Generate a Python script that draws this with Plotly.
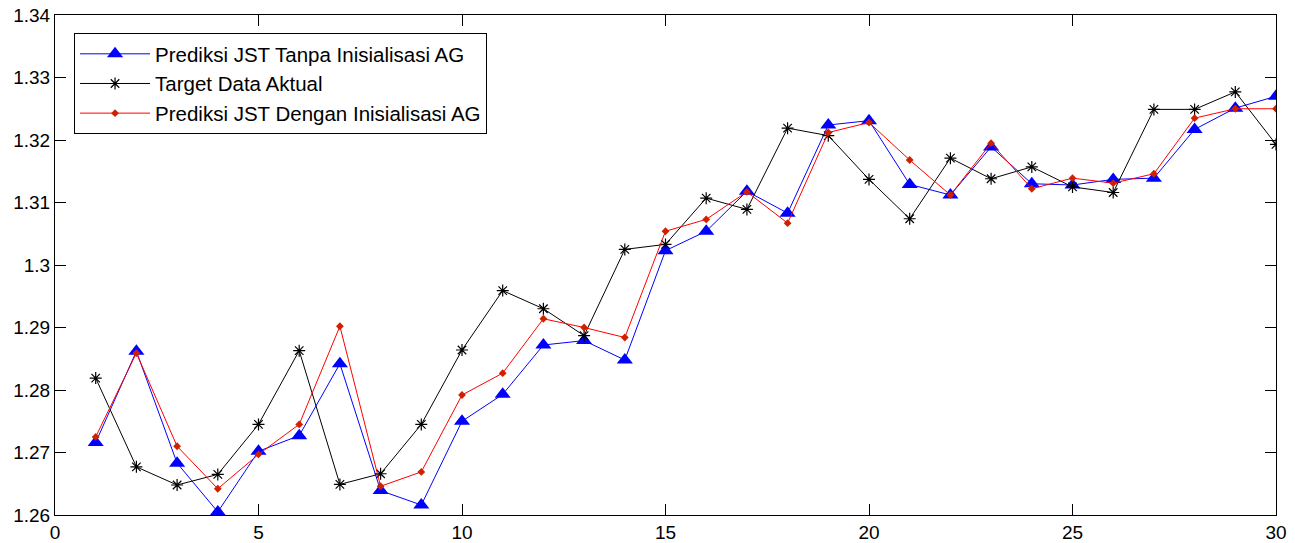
import plotly.graph_objects as go

x_index = list(range(1, 31))

tanpa_ag = [1.2716, 1.2862, 1.2683, 1.2605, 1.2702, 1.2727, 1.2842, 1.2639, 1.2616, 1.2750,
            1.2793, 1.2872, 1.2879, 1.2848, 1.3023, 1.3054, 1.3118, 1.3083, 1.3224, 1.3231,
            1.3129, 1.3112, 1.3189, 1.3130, 1.3128, 1.3137, 1.3139, 1.3217, 1.3251, 1.3270]

target_aktual = [1.2819, 1.2677, 1.2648, 1.2665, 1.2745, 1.2863, 1.2649, 1.2666, 1.2745, 1.2864,
                 1.2959, 1.2930, 1.2887, 1.3025, 1.3033, 1.3107, 1.3089, 1.3219, 1.3207, 1.3137,
                 1.3074, 1.3171, 1.3138, 1.3157, 1.3125, 1.3116, 1.3249, 1.3249, 1.3277, 1.3193]

dengan_ag = [1.2725, 1.2859, 1.2710, 1.2642, 1.2697, 1.2745, 1.2902, 1.2646, 1.2669, 1.2792,
             1.2827, 1.2914, 1.2900, 1.2884, 1.3054, 1.3073, 1.3117, 1.3067, 1.3212, 1.3228,
             1.3168, 1.3112, 1.3195, 1.3122, 1.3139, 1.3131, 1.3146, 1.3235, 1.3250, 1.3250]

names = ["Prediksi JST Tanpa Inisialisasi AG", "Target Data Aktual",
         "Prediksi JST Dengan Inisialisasi AG"]

FONT = "Liberation Sans, Arial, sans-serif"

fig = go.Figure()
fig.add_trace(go.Scatter(
    x=x_index, y=tanpa_ag, name=names[0], mode="lines+markers",
    line=dict(color="#0000ff", width=1),
    marker=dict(symbol="triangle-up", size=14, color="#0000ff"),
))
fig.add_trace(go.Scatter(
    x=x_index, y=target_aktual, name=names[1], mode="lines+markers",
    line=dict(color="#000000", width=1),
    marker=dict(symbol="asterisk-open", size=10, color="#000000",
                line=dict(color="#000000", width=1.2)),
))
fig.add_trace(go.Scatter(
    x=x_index, y=dengan_ag, name=names[2], mode="lines+markers",
    line=dict(color="#ff0000", width=1),
    marker=dict(symbol="diamond", size=6, color="#d02000"),
))

axis_common = dict(
    showline=True, linecolor="#000000", linewidth=1, mirror="ticks",
    ticks="inside", ticklen=11, tickcolor="#000000", tickwidth=1,
    showgrid=False, zeroline=False, automargin=False,
    tickfont=dict(family=FONT, size=19, color="#000000"),
)

fig.update_xaxes(range=[0, 30], dtick=5, tick0=0, **axis_common)
fig.update_yaxes(range=[1.26, 1.34], dtick=0.01, tick0=1.26, **axis_common)

fig.update_layout(
    width=1295, height=543,
    margin=dict(l=55, r=19, t=15, b=28, autoexpand=False),
    paper_bgcolor="#ffffff", plot_bgcolor="#ffffff",
    font=dict(family=FONT, size=19, color="#000000"),
    showlegend=True,
    legend=dict(
        x=0.0156, y=0.964, xanchor="left", yanchor="top",
        bgcolor="#ffffff", bordercolor="#000000", borderwidth=1,
        font=dict(family=FONT, size=20.5, color="#000000"),
        itemwidth=70, tracegroupgap=0,
    ),
)

fig.write_html(
    "out.html",
    config={"displayModeBar": False},
    post_script="document.body.style.margin='0';document.body.style.overflow='hidden';",
)
